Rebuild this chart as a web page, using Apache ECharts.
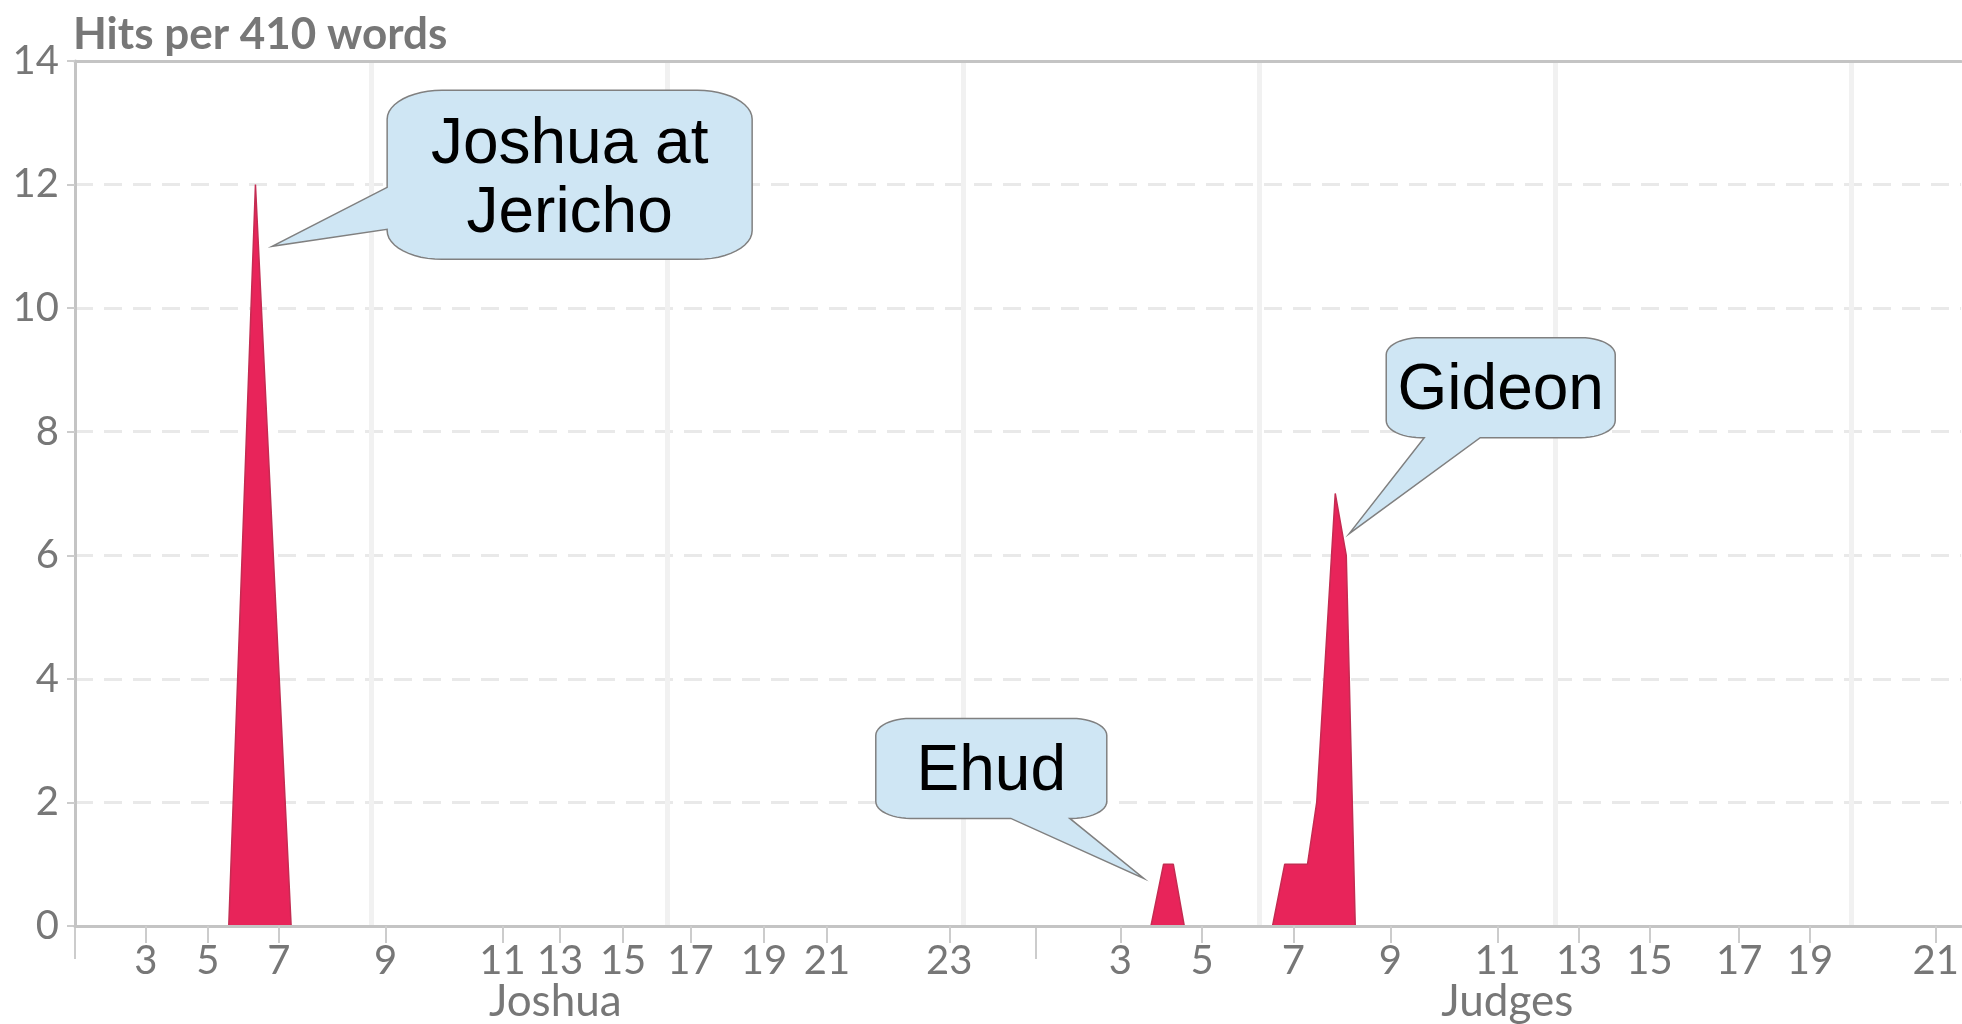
<!DOCTYPE html>
<html>
<head>
<meta charset="utf-8">
<title>Hits per 410 words</title>
<script src="https://cdn.jsdelivr.net/npm/echarts@6/dist/echarts.min.js"></script>
<style>
html, body { margin: 0; padding: 0; background: #fff; }
#chart { width: 1962px; height: 1024px; }
</style>
</head>
<body>
<div id="chart"></div>
<script>
// x axis unit: words counted from the start of Joshua
var bookNames = ['Joshua', 'Judges'];
var bookStart = [0, 16224];
var bookEnd = [16224, 32162];
var xMax = 31858;
var xGridStep = 5000;

// chapter ticks (only odd chapters are labelled)
var joshuaChapters = [3, 5, 7, 9, 11, 13, 15, 17, 19, 21, 23];
var joshuaChapterPos = [1197, 2246, 3445, 5247, 7221, 8194, 9258, 10396, 11639, 12703, 14768];
var judgesChapters = [3, 5, 7, 9, 11, 13, 15, 17, 19, 21];
var judgesChapterPos = [17656, 19036, 20581, 22219, 24029, 25406, 26596, 28109, 29305, 31431];

// hits per 410 words
var hitX = [0, 2597, 3048, 3651, 18174, 18387, 18551, 18737, 20228, 20434, 20819, 20974, 21287, 21473, 21625, 31858];
var hitY = [0, 0, 12, 0, 0, 1, 1, 0, 0, 1, 1, 2, 7, 6, 0, 0];

var yMin = 0, yMax = 14, yStep = 2;

// callouts
var noteText = ['Joshua at\nJericho', 'Ehud', 'Gideon'];
var noteX = [3330, 18053, 21523];
var noteY = [11, 0.77, 6.35];

// box layout of each callout, in pixels from the pointer tip
var noteBox = [
	{ dx: 115, dy: -156, w: 365, h: 169, side: 'left', p1: 97, p2: 139, ty: 5 },
	{ dx: -268, dy: -160, w: 231, h: 100, side: 'bottom', p1: 135, p2: 194, ty: 4 },
	{ dx: 37, dy: -196, w: 229, h: 100, side: 'bottom', p1: 38, p2: 94, ty: 4 }
];

var gray = '#777777';
var axisGray = '#c4c4c4';

var chapterLabel = {};
var chapterPos = [];
for(var i = 0; i < joshuaChapters.length; i++) {
	chapterLabel[joshuaChapterPos[i]] = joshuaChapters[i];
	chapterPos.push(joshuaChapterPos[i]);
}
for(var i = 0; i < judgesChapters.length; i++) {
	chapterLabel[judgesChapterPos[i]] = judgesChapters[i];
	chapterPos.push(judgesChapterPos[i]);
}
var bookLabel = {};
var bookMid = [];
for(var i = 0; i < bookNames.length; i++) {
	var m = (bookStart[i] + bookEnd[i]) / 2;
	bookLabel[m] = bookNames[i];
	bookMid.push(m);
}

var seriesData = [];
for(var i = 0; i < hitX.length; i++) {
	seriesData.push([hitX[i], hitY[i]]);
}

var labelFont = {
	fontFamily: 'Lato',
	fontSize: 40,
	color: gray
};

var option = {
	animation: false,
	backgroundColor: '#fff',
	title: {
		text: 'Hits per 410 words',
		left: 73,
		top: 13,
		padding: 0,
		textStyle: {
			fontFamily: 'Lato',
			fontWeight: 'bold',
			fontSize: 44,
			color: gray
		}
	},
	grid: {
		left: 75,
		right: 0,
		top: 61,
		bottom: 95
	},
	xAxis: [{
			// vertical grid lines
			type: 'value',
			min: 0,
			max: xMax,
			interval: xGridStep,
			position: 'bottom',
			axisLine: { show: false, onZero: false },
			axisTick: { show: false },
			axisLabel: { show: false },
			splitLine: {
				show: true,
				showMinLine: false,
				showMaxLine: false,
				lineStyle: { color: '#f1f1f1', width: 5 }
			}
		},
		{
			// chapter ticks
			type: 'value',
			min: 0,
			max: xMax,
			position: 'bottom',
			z: 5,
			axisLine: { show: true, onZero: false, lineStyle: { color: axisGray, width: 3 } },
			axisTick: {
				show: true,
				customValues: chapterPos,
				length: 17,
				lineStyle: { color: '#cccccc', width: 2 }
			},
			axisLabel: {
				show: true,
				customValues: chapterPos,
				margin: 15,
				fontFamily: labelFont.fontFamily,
				fontSize: labelFont.fontSize,
				color: labelFont.color,
				formatter: function(v) {
					return chapterLabel[v] != null ? String(chapterLabel[v]) : '';
				}
			},
			splitLine: { show: false }
		},
		{
			// book names and book separators
			type: 'value',
			min: 0,
			max: xMax,
			position: 'bottom',
			axisLine: { show: false, onZero: false },
			axisTick: {
				show: true,
				customValues: bookStart,
				length: 33,
				lineStyle: { color: '#cccccc', width: 2 }
			},
			axisLabel: {
				show: true,
				customValues: bookMid,
				margin: 54,
				fontFamily: labelFont.fontFamily,
				fontSize: 44,
				color: labelFont.color,
				formatter: function(v) {
					return bookLabel[v] || '';
				}
			},
			splitLine: { show: false }
		},
		{
			// top border
			type: 'value',
			min: 0,
			max: xMax,
			position: 'top',
			axisLine: { show: true, onZero: false, lineStyle: { color: axisGray, width: 3 } },
			axisTick: { show: false },
			axisLabel: { show: false },
			splitLine: { show: false }
		}
	],
	yAxis: {
		type: 'value',
		min: yMin,
		max: yMax,
		interval: yStep,
		axisLine: { show: true, onZero: false, lineStyle: { color: axisGray, width: 3 } },
		axisTick: { show: true, length: 8, lineStyle: { color: '#cccccc', width: 2 } },
		axisLabel: {
			margin: 16,
			fontFamily: labelFont.fontFamily,
			fontSize: labelFont.fontSize,
			color: labelFont.color
		},
		splitLine: {
			show: true,
			lineStyle: { color: '#e9e9e9', width: 3, type: [18, 11] }
		}
	},
	series: [{
		name: 'Hits',
		type: 'line',
		xAxisIndex: 0,
		data: seriesData,
		symbol: 'none',
		lineStyle: { color: '#c42c52', width: 1.5 },
		areaStyle: { color: '#e8245a', opacity: 1 }
	}]
};

var myChart = echarts.init(document.getElementById('chart'));
myChart.setOption(option);

// callout shape: rounded box plus a pointer to the tip
function calloutPoints(b, tip) {
	var pts = [];
	var n = 12;
	var x0 = b.x, y0 = b.y, x1 = b.x + b.w, y1 = b.y + b.h;
	var rx = b.w * 0.15, ry = b.h * 0.17;
	function arc(cx, cy, a0, a1) {
		for(var k = 0; k <= n; k++) {
			var a = a0 + (a1 - a0) * k / n;
			pts.push([cx + rx * Math.cos(a), cy + ry * Math.sin(a)]);
		}
	}
	arc(x0 + rx, y0 + ry, Math.PI, 1.5 * Math.PI);
	arc(x1 - rx, y0 + ry, 1.5 * Math.PI, 2 * Math.PI);
	arc(x1 - rx, y1 - ry, 0, 0.5 * Math.PI);
	if(b.side == 'bottom') {
		pts.push([x0 + b.p2, y1], tip, [x0 + b.p1, y1]);
	}
	arc(x0 + rx, y1 - ry, 0.5 * Math.PI, Math.PI);
	if(b.side == 'left') {
		pts.push([x0, y0 + b.p2], tip, [x0, y0 + b.p1]);
	}
	return pts;
}

var graphics = [];
for(var i = 0; i < noteText.length; i++) {
	var tip = myChart.convertToPixel({ xAxisIndex: 0, yAxisIndex: 0 }, [noteX[i], noteY[i]]);
	var lay = noteBox[i];
	var box = { x: tip[0] + lay.dx, y: tip[1] + lay.dy, w: lay.w, h: lay.h, side: lay.side, p1: lay.p1, p2: lay.p2 };
	graphics.push({
		type: 'polygon',
		z: 100,
		shape: { points: calloutPoints(box, tip) },
		style: { fill: '#cfe6f4', stroke: '#808080', lineWidth: 1.5 }
	});
	graphics.push({
		type: 'text',
		z: 101,
		x: box.x + box.w / 2,
		y: box.y + box.h / 2 + lay.ty,
		style: {
			text: noteText[i],
			fontFamily: 'Liberation Sans',
			fontSize: 64,
			lineHeight: 69,
			fill: '#000',
			align: 'center',
			verticalAlign: 'middle'
		}
	});
}
myChart.setOption({ graphic: graphics });
</script>
</body>
</html>
